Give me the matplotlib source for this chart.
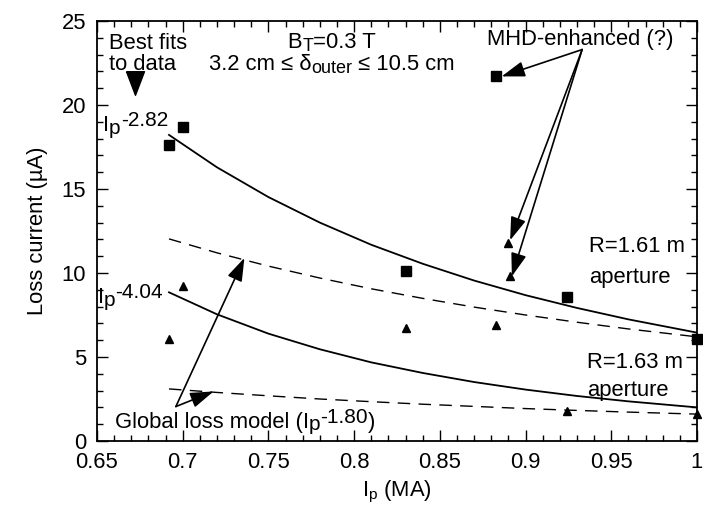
"""Loss current vs plasma current with power-law fits."""

import matplotlib as mpl
import matplotlib.pyplot as plt
from matplotlib.path import Path as MPath

FS = 15.8

mpl.rcParams.update({
    "font.family": ["Liberation Sans", "DejaVu Sans"],
    "mathtext.fontset": "custom",
    "mathtext.rm": "Liberation Sans",
    "mathtext.it": "Liberation Sans:italic",
    "font.size": FS,
})

# measured points (Ip in MA, loss current in uA)
ip_r161 = [0.692, 0.700, 0.830, 0.883, 0.924, 1.000]
loss_r161 = [17.6, 18.7, 10.1, 21.7, 8.6, 6.1]
ip_r163 = [0.692, 0.700, 0.830, 0.883, 0.890, 0.891, 0.924, 1.000]
loss_r163 = [6.1, 9.2, 6.7, 6.9, 11.8, 9.8, 1.8, 1.6]

# fitted / model curves
ip_curve = [0.692, 0.72, 0.75, 0.78, 0.81, 0.84, 0.87, 0.90, 0.93, 0.96, 1.00]
fit_r161 = [18.22, 16.29, 14.52, 13.00, 11.68, 10.55, 9.55, 8.68, 7.92, 7.24, 6.45]
fit_r163 = [8.85, 7.54, 6.39, 5.46, 4.68, 4.05, 3.51, 3.06, 2.68, 2.36, 2.00]
glob_r161 = [12.03, 11.20, 10.41, 9.70, 9.06, 8.49, 7.97, 7.50, 7.07, 6.67, 6.20]
glob_r163 = [3.10, 2.89, 2.69, 2.50, 2.34, 2.19, 2.06, 1.93, 1.82, 1.72, 1.60]

fig = plt.figure(figsize=(7.03, 5.11), dpi=100)
ax = fig.add_axes([97 / 703, 70 / 511, 600 / 703, 420 / 511])
renderer = fig.canvas.get_renderer()


def rich(x, y, pieces, align="left"):
    """Draw text pieces (text, size, rise in pt) one after another."""
    anns, dx = [], 0.0
    for txt, size, rise in pieces:
        a = ax.annotate(txt, xy=(x, y), xytext=(dx, rise), textcoords="offset points",
                        ha="left", va="baseline", fontsize=size)
        w = a.get_window_extent(renderer).width * 72 / fig.dpi
        anns.append(a)
        dx += w
    if align == "center":
        for a in anns:
            a.xyann = (a.xyann[0] - dx / 2, a.xyann[1])


def ip_pow(expo):
    return [("I", FS, 0), ("p", 15, -2), (expo, 15, 3.5)]


ax.plot(ip_curve, fit_r161, color="black", lw=1.3)
ax.plot(ip_curve, fit_r163, color="black", lw=1.3)
ax.plot(ip_curve, glob_r161, color="black", lw=1.0, dashes=(9, 6))
ax.plot(ip_curve, glob_r163, color="black", lw=1.0, dashes=(9, 6))
ax.plot(ip_r161, loss_r161, "s", color="black", ms=7.5, clip_on=False)
ax.plot(ip_r163, loss_r163, "^", color="black", ms=6, clip_on=False)

ax.set_xlim(0.65, 1.0)
ax.set_ylim(0, 25)
ax.set_xticks([0.65, 0.7, 0.75, 0.8, 0.85, 0.9, 0.95, 1.0])
ax.set_xticklabels(["0.65", "0.7", "0.75", "0.8", "0.85", "0.9", "0.95", "1"])
ax.set_xticks([0.65 + 0.01 * i for i in range(36)], minor=True)
ax.set_yticks([0, 5, 10, 15, 20, 25])
ax.set_yticks(range(26), minor=True)
ax.tick_params(which="both", direction="in", top=True, right=True, width=1.0)
ax.tick_params(which="major", length=8, pad=8)
ax.tick_params(which="minor", length=4)
for s in ax.spines.values():
    s.set_linewidth(1.3)

ax.set_xlabel(r"$\mathregular{I_p}$ (MA)", labelpad=4)
ax.set_ylabel("Loss current (µA)", labelpad=10)

arrow = dict(arrowstyle="-|>,head_length=0.9,head_width=0.3", color="black",
             lw=1.2, shrinkA=0, shrinkB=0)

# top-left note
ax.text(0.657, 24.3, "Best fits\nto data", ha="left", va="top", linespacing=1.0)
tri = MPath([(-0.38, 0.5), (0.38, 0.5), (0.0, -0.5), (-0.38, 0.5)])
ax.plot([0.672], [21.3], marker=tri, color="black", ms=17)

rich(0.6535, 18.45, ip_pow("-2.82"))
rich(0.6505, 8.2, ip_pow("-4.04"))

rich(0.787, 23.4, [("B", FS, 0), ("T", 13, -2.5), ("=0.3 T", FS, 0)], align="center")
rich(0.787, 22.1, [("3.2 cm ≤ δ", FS, 0), ("outer", 13, -2.5), (" ≤ 10.5 cm", FS, 0)],
     align="center")

# MHD-enhanced arrows
ax.text(0.932, 23.6, "MHD-enhanced (?)", ha="center", va="baseline")
for tip in [(0.886, 21.7), (0.891, 11.95), (0.892, 9.8)]:
    ax.annotate("", xy=tip, xytext=(0.933, 23.3), arrowprops=arrow)

ax.text(0.937, 11.25, "R=1.61 m", ha="left", va="baseline")
ax.text(0.937, 9.4, "aperture", ha="left", va="baseline")
ax.text(0.936, 4.35, "R=1.63 m", ha="left", va="baseline")
ax.text(0.936, 2.7, "aperture", ha="left", va="baseline")

# global loss model arrows
rich(0.6605, 0.8, [("Global loss model (", FS, 0)] + ip_pow("-1.80") + [(")", FS, 0)])
for tip in [(0.736, 10.9), (0.718, 2.95)]:
    ax.annotate("", xy=tip, xytext=(0.696, 2.05), arrowprops=arrow)

fig.savefig("out.png", dpi=100)
